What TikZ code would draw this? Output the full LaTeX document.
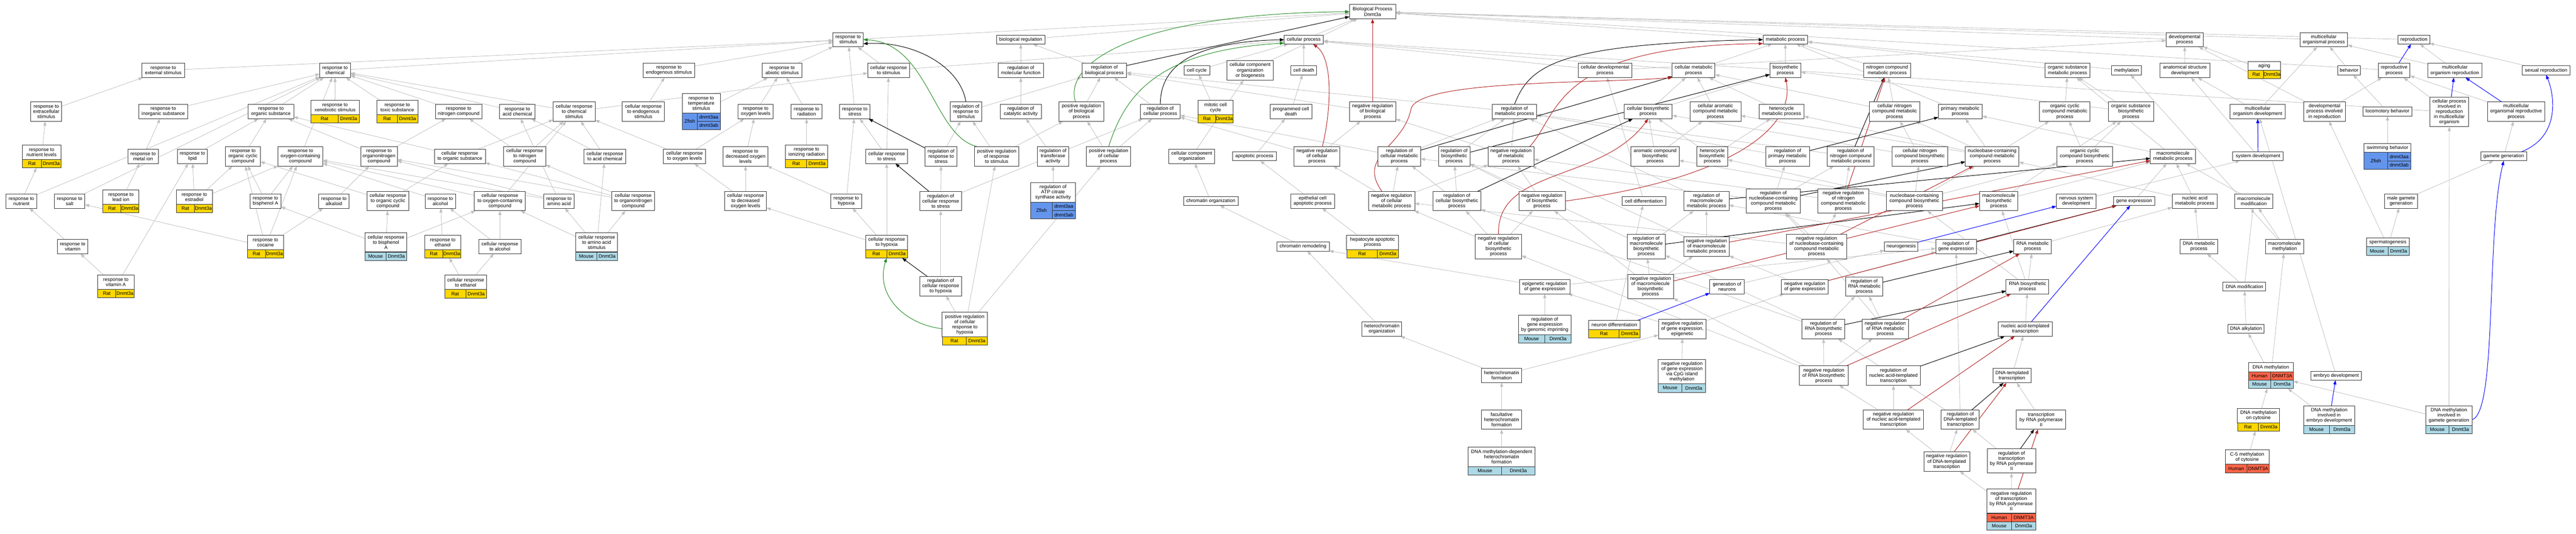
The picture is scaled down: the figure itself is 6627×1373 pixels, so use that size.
\documentclass[tikz,border=0pt]{standalone}
\usepackage{fontspec}
\setmainfont{Liberation Sans}
\usetikzlibrary{arrows.meta,fit}
\definecolor{ratc}{HTML}{FFD700}
\definecolor{mouc}{HTML}{ADD8E6}
\definecolor{humc}{HTML}{FF6347}
\definecolor{zfc}{HTML}{6495ED}
\definecolor{egray}{RGB}{192,192,192}
\definecolor{egreen}{HTML}{228B22}
\definecolor{ered}{HTML}{B22222}
\definecolor{eblue}{HTML}{0000FF}
\pgfdeclarelayer{bg}
\pgfdeclarelayer{edges}
\pgfsetlayers{bg,edges,main}
\tikzset{
  box/.style={draw=black!80,line width=1.3pt,fill=white,align=center,inner xsep=2pt,inner ysep=1pt,outer sep=0pt,font=\fontsize{12.5}{13.3}\selectfont},
  l1/.style={minimum height=23pt},
  l2/.style={minimum height=37pt},
  l3/.style={minimum height=50pt},
  l4/.style={minimum height=63pt},
  l5/.style={minimum height=76pt},
  cell/.style={draw=black!80,line width=1pt,inner sep=0pt,outer sep=0pt,minimum height=21.5pt,font=\fontsize{12.5}{13.3}\selectfont},
  fitb/.style={inner sep=0pt,outer sep=0pt},
  e/.style={draw=egray,line width=1.1pt,-{Triangle[length=11pt,width=8pt]}},
  eb/.style={draw=black,line width=1.3pt,-{Triangle[length=11pt,width=8pt]}},
  eg/.style={draw=egreen,line width=1.3pt,-{Triangle[length=11pt,width=8pt]}},
  er/.style={draw=ered,line width=1.3pt,-{Triangle[length=11pt,width=8pt]}},
  eu/.style={draw=eblue,line width=1.3pt,-{Triangle[length=11pt,width=8pt]}}
}
\newcommand\gn[6]{\node[box,l#5,minimum width=#4pt] (#1) at (#2,#3) {#6};}
\newcommand\tnR[6]{%
  \node[box,l#5,minimum width=#4pt] (#1-l) at (#2,#3) {#6};
  \pgfmathsetmacro\tabwa{max(#4/2,#4-54)}\pgfmathsetmacro\tabwb{#4-\tabwa}
  \node[cell,fill=ratc,minimum width=\tabwa pt,anchor=north west] (#1-a) at (#1-l.south west) {Rat};
  \node[cell,fill=ratc,minimum width=\tabwb pt,anchor=north east] (#1-b) at (#1-l.south east) {Dnmt3a};
  \node[fitb,fit=(#1-l)(#1-a)(#1-b)] (#1) {};}
\newcommand\tnM[6]{%
  \node[box,l#5,minimum width=#4pt] (#1-l) at (#2,#3) {#6};
  \pgfmathsetmacro\tabwa{#4/2}
  \node[cell,fill=mouc,minimum width=\tabwa pt,anchor=north west] (#1-a) at (#1-l.south west) {Mouse};
  \node[cell,fill=mouc,minimum width=\tabwa pt,anchor=north east] (#1-b) at (#1-l.south east) {Dnmt3a};
  \node[fitb,fit=(#1-l)(#1-a)(#1-b)] (#1) {};}
\newcommand\tnH[6]{%
  \node[box,l#5,minimum width=#4pt] (#1-l) at (#2,#3) {#6};
  \pgfmathsetmacro\tabwa{max(#4/2,#4-62)}\pgfmathsetmacro\tabwb{#4-\tabwa}
  \node[cell,fill=humc,minimum width=\tabwa pt,anchor=north west] (#1-a) at (#1-l.south west) {Human};
  \node[cell,fill=humc,minimum width=\tabwb pt,anchor=north east] (#1-b) at (#1-l.south east) {DNMT3A};
  \node[fitb,fit=(#1-l)(#1-a)(#1-b)] (#1) {};}
\newcommand\tnHM[6]{%
  \node[box,l#5,minimum width=#4pt] (#1-l) at (#2,#3) {#6};
  \pgfmathsetmacro\tabwa{max(#4/2,#4-62)}\pgfmathsetmacro\tabwb{#4-\tabwa}
  \node[cell,fill=humc,minimum width=\tabwa pt,anchor=north west] (#1-a) at (#1-l.south west) {Human};
  \node[cell,fill=humc,minimum width=\tabwb pt,anchor=north east] (#1-b) at (#1-l.south east) {DNMT3A};
  \node[cell,fill=mouc,minimum width=\tabwa pt,anchor=north west] (#1-c) at (#1-a.south west) {Mouse};
  \node[cell,fill=mouc,minimum width=\tabwb pt,anchor=north east] (#1-d) at (#1-b.south east) {Dnmt3a};
  \node[fitb,fit=(#1-l)(#1-c)(#1-d)] (#1) {};}
\newcommand\tnZ[6]{%
  \node[box,l#5,minimum width=#4pt] (#1-l) at (#2,#3) {#6};
  \pgfmathsetmacro\tabwb{max(#4/2,59)}\pgfmathsetmacro\tabwa{#4-\tabwb}
  \node[cell,fill=zfc,minimum width=\tabwa pt,minimum height=43pt,anchor=north west] (#1-a) at (#1-l.south west) {Zfish};
  \node[cell,fill=zfc,minimum width=\tabwb pt,anchor=north east] (#1-b) at (#1-l.south east) {dnmt3aa};
  \node[cell,fill=zfc,minimum width=\tabwb pt,anchor=north] (#1-c) at (#1-b.south) {dnmt3ab};
  \node[fitb,fit=(#1-l)(#1-a)(#1-c)] (#1) {};}
\begin{document}
\begin{tikzpicture}[x=1pt,y=-1pt]
\path[use as bounding box] (0,0) rectangle (6627,1373);
\begin{pgfonlayer}{bg}
\fill[white] (0,0) rectangle (6627,1373);
\end{pgfonlayer}
% row 30
\gn{BP}{3531}{30}{119}{2}{Biological Process\\Dnmt3a}
% row 102
\gn{stim}{2182}{102}{78}{2}{response to\\stimulus}
\gn{bioreg}{2626}{102}{124}{1}{biological regulation}
\gn{cellproc}{3354}{102}{101}{1}{cellular process}
\gn{metab}{4593}{102}{115}{1}{metabolic process}
\gn{devproc}{5620}{102}{95}{2}{developmental\\process}
\gn{multorg}{5978}{102}{123}{2}{multicellular\\organismal process}
\gn{repro}{6210}{102}{81}{1}{reproduction}
% row 181
\gn{extstim}{420}{181}{109}{2}{response to\\external stimulus}
\gn{chem}{862}{181}{79}{2}{response to\\chemical}
\gn{endostim}{1721}{181}{133}{2}{response to\\endogenous stimulus}
\gn{abiotic}{2012}{181}{102}{2}{response to\\abiotic stimulus}
\gn{cellstim}{2286}{181}{108}{2}{cellular response\\to stimulus}
\gn{regmol}{2626}{181}{116}{2}{regulation of\\molecular function}
\gn{regbio}{2841}{181}{115}{2}{regulation of\\biological process}
\gn{cellcycle}{3079}{181}{66}{1}{cell cycle}
\gn{ccob}{3216}{181}{119}{3}{cellular component\\organization\\or biogenesis}
\gn{celldeath}{3354}{181}{67}{1}{cell death}
\gn{celldev}{4129}{181}{138}{2}{cellular developmental\\process}
\gn{cellmet}{4357}{181}{110}{2}{cellular metabolic\\process}
\gn{biosyn}{4593}{181}{80}{2}{biosynthetic\\process}
\gn{nitmet}{4855}{181}{120}{2}{nitrogen compound\\metabolic process}
\gn{orgsubmet}{5319}{181}{116}{2}{organic substance\\metabolic process}
\gn{methyl}{5471}{181}{77}{1}{methylation}
\gn{anat}{5621}{181}{128}{2}{anatomical structure\\development}
\tnR{aging}{5825}{169.5}{84}{1}{aging}
\gn{behav}{6043}{181}{59}{1}{behavior}
\gn{reprop}{6159}{181}{82}{2}{reproductive\\process}
\gn{mor}{6315}{181}{139}{2}{multicellular\\organism reproduction}
\gn{sexrep}{6550}{181}{123}{1}{sexual reproduction}
% row 287
\gn{extracell}{119}{287}{80}{3}{response to\\extracellular\\stimulus}
\gn{inorg}{420}{287}{126}{2}{response to\\inorganic substance}
\gn{orgsub}{697}{287}{117}{2}{response to\\organic substance}
\tnR{xeno}{862}{276.5}{124}{2}{response to\\xenobiotic stimulus}
\tnR{toxic}{1022}{276.5}{106}{2}{response to\\toxic substance}
\gn{nitcomp}{1180}{287}{120}{2}{response to\\nitrogen compound}
\gn{acidchem}{1331}{287}{91}{2}{response to\\acid chemical}
\gn{cellchem}{1477}{287}{108}{3}{cellular response\\to chemical\\stimulus}
\gn{cellendo}{1655}{287}{108}{3}{cellular response\\to endogenous\\stimulus}
\tnZ{temp}{1804}{265.5}{98}{3}{response to\\temperature\\stimulus}
\gn{oxylev}{1944}{287}{90}{2}{response to\\oxygen levels}
\gn{radiation}{2075}{287}{79}{2}{response to\\radiation}
\gn{stress}{2199}{287}{78}{2}{response to\\stress}
\gn{regresp}{2485}{287}{81}{3}{regulation of\\response to\\stimulus}
\gn{regcat}{2626}{287}{106}{2}{regulation of\\catalytic activity}
\gn{posbio}{2782}{287}{115}{3}{positive regulation\\of biological\\process}
\gn{regcell}{2985}{287}{102}{2}{regulation of\\cellular process}
\tnR{mitotic}{3127}{276.5}{90}{2}{mitotic cell\\cycle}
\gn{pcd}{3321}{287}{107}{2}{programmed cell\\death}
\gn{negbio}{3531}{287}{119}{3}{negative regulation\\of biological\\process}
\gn{regmet}{3896}{287}{115}{2}{regulation of\\metabolic process}
\gn{cellbiosyn}{4240}{287}{124}{2}{cellular biosynthetic\\process}
\gn{cellarom}{4413}{287}{131}{3}{cellular aromatic\\compound metabolic\\process}
\gn{hetmet}{4583}{287}{116}{2}{heterocycle\\metabolic process}
\gn{cellnitmet}{4874}{287}{130}{3}{cellular nitrogen\\compound metabolic\\process}
\gn{primmet}{5043}{287}{113}{2}{primary metabolic\\process}
\gn{orgcycmet}{5312}{287}{130}{3}{organic cyclic\\compound metabolic\\process}
\gn{orgsubbio}{5482}{287}{117}{3}{organic substance\\biosynthetic\\process}
\gn{multdev}{5808}{287}{141}{2}{multicellular\\organism development}
\gn{devrepro}{5980}{287}{107}{3}{developmental\\process involved\\in reproduction}
\gn{locom}{6142}{287}{126}{1}{locomotory behavior}
\gn{cpirmo}{6301}{288}{100}{5}{cellular process\\involved in\\reproduction\\in multicellular\\organism}
\gn{morp}{6473}{287}{147}{3}{multicellular\\organismal reproductive\\process}
% row 402
\tnR{nutlev}{107}{391.5}{100}{2}{response to\\nutrient levels}
\gn{metalion}{368}{402}{78}{2}{response to\\metal ion}
\gn{lipid}{495}{402}{78}{2}{response to\\lipid}
\gn{orgcyc}{625}{402}{90}{3}{response to\\organic cyclic\\compound}
\gn{oxycont}{773}{402}{115}{3}{response to\\oxygen-containing\\compound}
\gn{orgnit}{975}{402}{94}{3}{response to\\organonitrogen\\compound}
\gn{cellorgsub}{1183}{402}{131}{2}{cellular response\\to organic substance}
\gn{cellnit}{1350}{402}{108}{3}{cellular response\\to nitrogen\\compound}
\gn{cellacid}{1556}{402}{108}{2}{cellular response\\to acid chemical}
\gn{celloxylev}{1761}{402}{108}{2}{cellular response\\to oxygen levels}
\gn{decoxy}{1918}{402}{116}{3}{response to\\decreased oxygen\\levels}
\tnR{ionrad}{2075}{391.5}{108}{2}{response to\\ionizing radiation}
\gn{cellstress}{2281}{402}{108}{2}{cellular response\\to stress}
\gn{regstress}{2421}{402}{82}{3}{regulation of\\response to\\stress}
\gn{posresp}{2564}{402}{115}{3}{positive regulation\\of response\\to stimulus}
\gn{regtrans}{2709}{402}{81}{3}{regulation of\\transferase\\activity}
\gn{poscell}{2852}{402}{114}{3}{positive regulation\\of cellular\\process}
\gn{cco}{3066}{402}{118}{2}{cellular component\\organization}
\gn{apop}{3227}{402}{112}{1}{apoptotic process}
\gn{negcell}{3388}{402}{118}{3}{negative regulation\\of cellular\\process}
\gn{regcellmet}{3600}{402}{110}{3}{regulation of\\cellular metabolic\\process}
\gn{regbiosyn}{3741}{402}{81}{3}{regulation of\\biosynthetic\\process}
\gn{negmet}{3887}{402}{118}{3}{negative regulation\\of metabolic\\process}
\gn{arombio}{4258}{402}{124}{3}{aromatic compound\\biosynthetic\\process}
\gn{hetbio}{4405}{402}{80}{3}{heterocycle\\biosynthetic\\process}
\gn{regprim}{4599}{402}{112}{3}{regulation of\\primary metabolic\\process}
\gn{regnit}{4761}{402}{120}{3}{regulation of\\nitrogen compound\\metabolic process}
\gn{cellnitbio}{4939}{402}{144}{3}{cellular nitrogen\\compound biosynthetic\\process}
\gn{nucmet}{5125}{402}{138}{3}{nucleobase-containing\\compound metabolic\\process}
\gn{orgcycbio}{5363}{402}{144}{3}{organic cyclic\\compound biosynthetic\\process}
\gn{macromet}{5590}{402}{116}{2}{macromolecule\\metabolic process}
\gn{sysdev}{5809}{402}{130}{1}{system development}
\tnZ{swim}{6142}{380.5}{120}{1}{swimming behavior}
\gn{gamete}{6441}{402}{118}{1}{gamete generation}
% row 517
\gn{nutrient}{55}{517}{79}{2}{response to\\nutrient}
\gn{salt}{179}{517}{79}{2}{response to\\salt}
\tnR{leadion}{311}{506.5}{93}{2}{response to\\lead ion}
\tnR{estradiol}{500}{506.5}{93}{2}{response to\\estradiol}
\gn{bisA}{683}{517}{79}{2}{response to\\bisphenol A}
\gn{alkaloid}{859}{517}{79}{2}{response to\\alkaloid}
\gn{cellorgcyc}{998}{517}{107}{3}{cellular response\\to organic cyclic\\compound}
\gn{alcohol}{1133}{517}{79}{2}{response to\\alcohol}
\gn{celloxycont}{1286}{517}{131}{3}{cellular response\\to oxygen-containing\\compound}
\gn{aminoacid}{1438}{517}{78}{2}{response to\\amino acid}
\gn{cellorgnit}{1629}{517}{109}{3}{cellular response\\to organonitrogen\\compound}
\gn{celldecoxy}{1918}{517}{108}{3}{cellular response\\to decreased\\oxygen levels}
\gn{hypoxia}{2177}{517}{79}{2}{response to\\hypoxia}
\gn{regcellstress}{2420}{517}{108}{3}{regulation of\\cellular response\\to stress}
\tnZ{atp}{2709}{495}{115}{3}{regulation of\\ATP citrate\\synthase activity}
\gn{chromorg}{3115}{517}{141}{1}{chromatin organization}
\gn{epiapop}{3377}{517}{113}{2}{epithelial cell\\apoptotic process}
\gn{negcellmet}{3580}{517}{119}{3}{negative regulation\\of cellular\\metabolic process}
\gn{regcellbio}{3748}{517}{124}{3}{regulation of\\cellular biosynthetic\\process}
\gn{negbiosyn}{3967}{517}{119}{3}{negative regulation\\of biosynthetic\\process}
\gn{celldiff}{4229}{517}{112}{1}{cell differentiation}
\gn{regmacromet}{4390}{517}{116}{3}{regulation of\\macromolecule\\metabolic process}
\gn{regnuc}{4562}{517}{138}{4}{regulation of\\nucleobase-containing\\compound metabolic\\process}
\gn{negnit}{4742}{517}{131}{4}{negative regulation\\of nitrogen\\compound metabolic\\process}
\gn{nucbio}{4925}{517}{144}{3}{nucleobase-containing\\compound biosynthetic\\process}
\gn{macrobio}{5142}{517}{99}{3}{macromolecule\\biosynthetic\\process}
\gn{nsdev}{5341}{517}{102}{2}{nervous system\\development}
\gn{geneexp}{5490}{517}{106}{1}{gene expression}
\gn{nucacidmet}{5646}{517}{116}{2}{nucleic acid\\metabolic process}
\gn{macromod}{5798}{517}{99}{2}{macromolecule\\modification}
\gn{malegam}{6177}{517}{84}{2}{male gamete\\generation}
% row 634
\gn{vitamin}{187}{634}{79}{2}{response to\\vitamin}
\tnR{cocaine}{683}{623.5}{93}{2}{response to\\cocaine}
\tnM{cellbisA}{993}{623}{107}{3}{cellular response\\to bisphenol\\A}
\tnR{ethanol}{1139}{623.5}{93}{2}{response to\\ethanol}
\gn{cellalcohol}{1286}{634}{108}{2}{cellular response\\to alcohol}
\tnM{cellamino}{1535}{623}{107}{3}{cellular response\\to amino acid\\stimulus}
\tnR{cellhypoxia}{2281}{623.5}{108}{2}{cellular response\\to hypoxia}
\gn{chromrem}{3352}{634}{135}{1}{chromatin remodeling}
\tnR{hepato}{3531}{623.5}{133}{2}{hepatocyte apoptotic\\process}
\gn{negcellbio}{3855}{634}{119}{4}{negative regulation\\of cellular\\biosynthetic\\process}
\gn{regmacrobio}{4235}{634}{98}{4}{regulation of\\macromolecule\\biosynthetic\\process}
\gn{negmacromet}{4390}{634}{117}{3}{negative regulation\\of macromolecule\\metabolic process}
\gn{negnuc}{4673}{634}{155}{4}{negative regulation\\of nucleobase-containing\\compound metabolic\\process}
\gn{neurogen}{4891}{634}{86}{1}{neurogenesis}
\gn{reggene}{5032}{634}{105}{2}{regulation of\\gene expression}
\gn{rnamet}{5229}{634}{97}{2}{RNA metabolic\\process}
\gn{dnamet}{5657}{634}{96}{2}{DNA metabolic\\process}
\gn{macromethyl}{5877}{634}{98}{2}{macromolecule\\methylation}
\tnM{spermato}{6143}{623}{111}{1}{spermatogenesis}
% row 737
\tnR{vitA}{298}{725.5}{94}{2}{response to\\vitamin A}
\tnR{cellethanol}{1198}{726}{108}{2}{cellular response\\to ethanol}
\gn{regcellhyp}{2420}{736}{108}{3}{regulation of\\cellular response\\to hypoxia}
\gn{epireg}{3974}{737}{129}{2}{epigenetic regulation\\of gene expression}
\gn{negmacrobio}{4246}{737}{118}{4}{negative regulation\\of macromolecule\\biosynthetic\\process}
\gn{genneur}{4443}{737}{89}{2}{generation of\\neurons}
\gn{neggene}{4643}{737}{120}{2}{negative regulation\\of gene expression}
\gn{regrnamet}{4796}{737}{96}{3}{regulation of\\RNA metabolic\\process}
\gn{rnabio}{5216}{737}{110}{2}{RNA biosynthetic\\process}
\gn{dnamod}{5774}{737}{110}{1}{DNA modification}
% row 846
\tnR{posregcellhyp}{2482}{834.5}{116}{4}{positive regulation\\of cellular\\response to\\hypoxia}
\gn{hetorg}{3555}{846}{102}{2}{heterochromatin\\organization}
\tnM{genimprint}{3974}{835.5}{136}{3}{regulation of\\gene expression\\by genomic imprinting}
\tnR{neurondiff}{4153}{835.5}{133}{1}{neuron differentiation}
\gn{neggeneepi}{4328}{846}{123}{3}{negative regulation\\of gene expression,\\epigenetic}
\gn{regrnabio}{4691}{846}{110}{3}{regulation of\\RNA biosynthetic\\process}
\gn{negrnamet}{4850}{846}{119}{3}{negative regulation\\of RNA metabolic\\process}
\gn{natrans}{5210}{846}{140}{2}{nucleic acid-templated\\transcription}
\gn{dnaalk}{5778}{846}{94}{1}{DNA alkylation}
% row 966
\gn{hetform}{3863}{965}{103}{2}{heterochromatin\\formation}
\tnM{cpg}{4327}{955.5}{122}{4}{negative regulation\\of gene expression\\via CpG island\\methylation}
\gn{negrnabio}{4692}{966}{125}{3}{negative regulation\\of RNA biosynthetic\\process}
\gn{regnatrans}{4871}{966}{140}{3}{regulation of\\nucleic acid-templated\\transcription}
\gn{dnatrans}{5176}{966}{98}{2}{DNA-templated\\transcription}
\tnHM{dnameth}{5842}{944.5}{116}{1}{DNA methylation}
\gn{embryo}{6010}{966}{131}{1}{embryo development}
% row 1079
\gn{facult}{3863}{1079}{103}{3}{facultative\\heterochromatin\\formation}
\gn{negnatrans}{4871}{1079}{155}{3}{negative regulation\\of nucleic acid-templated\\transcription}
\gn{regdnatrans}{5043}{1079}{98}{3}{regulation of\\DNA-templated\\transcription}
\gn{polII}{5251}{1079}{127}{3}{transcription\\by RNA polymerase\\II}
\tnR{dnamcyt}{5810}{1068.5}{108}{2}{DNA methylation\\on cytosine}
\tnM{dnamembryo}{5992}{1068.5}{131}{3}{DNA methylation\\involved in\\embryo development}
\tnM{dnamgamete}{6300}{1068.5}{119}{3}{DNA methylation\\involved in\\gamete generation}
% row 1185
\tnM{dnamhet}{3863}{1175}{172}{3}{DNA methylation-dependent\\heterochromatin\\formation}
\gn{negdnatrans}{5008}{1187}{118}{3}{negative regulation\\of DNA-templated\\transcription}
\gn{regpolII}{5175}{1185}{125}{4}{regulation of\\transcription\\by RNA polymerase\\II}
\tnH{c5}{5781}{1175.5}{113}{2}{C-5 methylation\\of cytosine}
% row 1290
\tnHM{negpolII}{5174}{1288.5}{126}{4}{negative regulation\\of transcription\\by RNA polymerase\\II}

\begin{pgfonlayer}{edges}
\foreach \a/\b in {extstim/stim, chem/stim, extracell/extstim, nutlev/extracell, nutrient/nutlev, nutrient/chem, salt/chem, inorg/chem, metalion/inorg, leadion/metalion, lipid/orgsub, estradiol/lipid, estradiol/orgcyc, estradiol/oxycont, orgsub/chem, orgcyc/orgsub, oxycont/chem, orgnit/orgsub, orgnit/nitcomp, xeno/chem, toxic/chem, bisA/orgcyc, bisA/oxycont, alkaloid/orgnit, cellorgcyc/orgcyc, cellorgcyc/cellorgsub, vitamin/nutrient, vitA/vitamin, vitA/lipid, cocaine/alkaloid, cocaine/orgcyc, cocaine/oxycont, cocaine/salt, cellbisA/bisA, cellbisA/cellorgcyc, cellbisA/celloxycont,
nitcomp/chem, acidchem/chem, cellchem/chem, cellchem/cellstim, endostim/stim, cellendo/endostim, temp/abiotic, abiotic/stim, oxylev/abiotic, radiation/abiotic, stress/stim, cellorgsub/orgsub, cellorgsub/cellchem, cellnit/nitcomp, cellnit/cellchem, cellacid/acidchem, cellacid/cellchem, celloxylev/oxylev, celloxylev/cellchem, decoxy/oxylev, ionrad/radiation, alcohol/oxycont, ethanol/alcohol, celloxycont/oxycont, celloxycont/cellchem, aminoacid/acidchem, aminoacid/oxycont, aminoacid/orgnit, cellorgnit/orgnit, cellorgnit/cellnit, cellorgnit/cellorgsub, celldecoxy/decoxy, celldecoxy/celloxylev, hypoxia/decoxy, hypoxia/stress, cellalcohol/alcohol, cellalcohol/celloxycont, cellamino/aminoacid, cellamino/celloxycont, cellamino/cellorgnit, cellamino/cellacid, cellethanol/ethanol, cellethanol/cellalcohol, cellhypoxia/celldecoxy, cellhypoxia/hypoxia, cellhypoxia/cellstress,
stim/BP, bioreg/BP, cellstim/cellproc, cellstim/stim, regmol/bioreg, regbio/bioreg, regresp/regbio, posresp/regresp, posresp/posbio, regcat/regmol, posbio/regbio, regcell/regbio, cellcycle/cellproc, ccob/BP, mitotic/cellcycle, pcd/celldeath, cellstress/cellstim, cellstress/stress, regstress/regresp, regtrans/regcat, poscell/posbio, poscell/regcell, cco/ccob, apop/pcd, regcellstress/regstress, regcellstress/regcell, atp/regtrans, chromorg/cco, chromrem/chromorg, regcellhyp/regcellstress, posregcellhyp/regcellhyp, posregcellhyp/posresp, posregcellhyp/poscell,
cellproc/BP, celldeath/cellproc, negbio/regbio, regmet/regbio, negcell/negbio, negcell/regcell, regcellmet/regmet, regcellmet/regcell, regbiosyn/regmet, negmet/regmet, negmet/negbio, celldev/cellproc, celldev/devproc, cellmet/cellproc, cellmet/metab, cellbiosyn/cellmet, cellbiosyn/biosyn, cellarom/cellmet, negcellmet/negcell, negcellmet/regcellmet, negcellmet/negmet, regcellbio/regcellmet, regcellbio/regbiosyn, negbiosyn/regbiosyn, negbiosyn/negmet, celldiff/celldev, regmacromet/regmet, arombio/cellarom, arombio/cellbiosyn, hetbio/cellbiosyn, hetbio/hetmet, epiapop/apop, hepato/epiapop, negcellbio/negcellmet, negcellbio/regcellbio, negcellbio/negbiosyn, regmacrobio/regbiosyn, regmacrobio/regmacromet, negmacromet/regmacromet, negmacromet/negmet, regprim/regmet, regnit/regmet,
hetorg/chromrem, epireg/chromrem, epireg/reggene, genimprint/epireg, neurondiff/celldiff, neggeneepi/epireg, neggeneepi/neggene, hetform/hetorg, hetform/neggeneepi, cpg/neggeneepi, facult/hetform, dnamhet/facult, negmacrobio/regmacrobio, negmacrobio/negbiosyn, negmacrobio/negmacromet, genneur/neurogen,
metab/BP, biosyn/metab, nitmet/metab, orgsubmet/metab, methyl/metab, hetmet/cellmet, cellnitmet/nitmet, cellnitmet/cellmet, primmet/metab, orgcycmet/orgsubmet, orgsubbio/orgsubmet, orgsubbio/biosyn, cellnitbio/cellnitmet, cellnitbio/cellbiosyn, nucmet/cellarom, nucmet/hetmet, nucmet/cellnitmet, nucmet/orgcycmet, nucmet/primmet, orgcycbio/orgcycmet, orgcycbio/orgsubbio, regnuc/regcellmet, regnuc/regprim, regnuc/regnit, negnit/regnit, negnit/negmet, nucbio/nucmet, nucbio/cellnitbio, nucbio/arombio, nucbio/hetbio, nucbio/orgcycbio, macrobio/macromet, macrobio/orgsubbio, nsdev/sysdev, geneexp/macromet, negnuc/regnuc, negnuc/negcellmet, negnuc/negnit, reggene/regmacromet, rnamet/nucacidmet, macromet/orgsubmet, macromet/primmet,
neggene/reggene, neggene/negmacromet, regrnamet/regnuc, rnabio/rnamet, rnabio/nucbio, rnabio/macrobio, regrnabio/regrnamet, regrnabio/regmacrobio, regrnabio/regcellbio, negrnamet/regrnamet, negrnamet/negnuc, natrans/rnabio, negrnabio/regrnabio, negrnabio/negrnamet, negrnabio/negcellbio, negrnabio/negmacrobio, regnatrans/regrnabio, dnatrans/natrans, negnatrans/negrnabio, negnatrans/regnatrans, regdnatrans/regnatrans, regdnatrans/reggene, polII/dnatrans, negdnatrans/negnatrans, negdnatrans/regdnatrans, regpolII/regdnatrans, negpolII/negdnatrans, negpolII/regpolII,
devproc/BP, multorg/BP, repro/BP, anat/devproc, aging/devproc, behav/multorg, reprop/BP, mor/repro, mor/multorg, sexrep/repro, multdev/anat, multdev/multorg, devrepro/devproc, devrepro/reprop, locom/behav, cpirmo/reprop, cpirmo/cellproc, morp/reprop, sysdev/anat, swim/locom, gamete/morp, nucacidmet/macromet, nucacidmet/nucmet, macromod/macromet, malegam/gamete, dnamet/nucacidmet, macromethyl/macromod, macromethyl/methyl, spermato/malegam, spermato/devrepro, dnamod/dnamet, dnamod/macromod, dnaalk/dnamod, dnameth/dnaalk, dnameth/macromethyl, embryo/multdev, dnamcyt/dnameth, dnamembryo/dnameth, dnamgamete/dnameth, dnamgamete/cpirmo, c5/dnamcyt}
  {\draw[e] (\a) -- (\b);}
% black: regulates
\foreach \a/\b in {regbio/BP, regstress/stress, regcellstress/cellstress, regcellhyp/cellhypoxia, regcellmet/cellmet, regbiosyn/biosyn, regcellbio/cellbiosyn, regmacromet/macromet, regmacrobio/macrobio, regprim/primmet, regnit/nitmet, regnuc/nucmet, reggene/geneexp, regrnamet/rnamet, regrnabio/rnabio, regnatrans/natrans, regdnatrans/dnatrans, regpolII/polII}
  {\draw[eb] (\a) -- (\b);}
\draw[eb] (regresp.north) .. controls (2470,170) and (2350,105) .. (stim.-15);
\draw[eb] (regcell.north) .. controls (2985,180) and (3050,108) .. (cellproc.west);
\draw[eb] (regmet.north) .. controls (3935,170) and (4000,112) .. (metab.west);
% green: positively regulates
\draw[eg] ([xshift=-15pt]posbio.north) .. controls (2735,170) and (2900,35) .. (BP.west);
\draw[eg] ([xshift=-50pt]posresp.north) .. controls (2400,350) and (2390,110) .. (stim.east);
\draw[eg] (poscell.north) .. controls (2890,260) and (2960,130) .. (cellproc.190);
\draw[eg] (posregcellhyp.west) .. controls (2330,835) and (2250,760) .. (cellhypoxia.south);
% red: negatively regulates
\foreach \a/\b in {negbio/BP, negmacromet/macromet, negmacrobio/macrobio, negnit/nitmet, negnuc/nucmet, neggene/geneexp, negrnamet/rnamet, negrnabio/rnabio, negnatrans/natrans, negdnatrans/dnatrans, negpolII/polII}
  {\draw[er] (\a) -- (\b);}
\draw[er] ([xshift=14pt]negcell.north) .. controls (3425,280) and (3430,150) .. ([xshift=24pt]cellproc.south);
\draw[er] ([xshift=48pt]negmet.north) .. controls (4010,300) and (3990,118) .. (metab.190);
\draw[er] ([xshift=-25pt]negcellmet.north) .. controls (3490,400) and (3610,380) .. (3630,280) .. controls (3650,205) and (4100,215) .. (cellmet.south west);
\draw[er] (negcellbio.north) .. controls (3850,430) and (4120,470) .. (cellbiosyn.south);
\draw[er] (negbiosyn.east) .. controls (4450,460) and (4620,330) .. (biosyn.south);
% blue: part of
\foreach \a/\b in {neurondiff/genneur, neurogen/nsdev, natrans/geneexp, reprop/repro, cpirmo/mor, morp/mor, sysdev/multdev, dnamembryo/embryo}
  {\draw[eu] (\a) -- (\b);}
\draw[eu] (dnamgamete.east) .. controls (6425,1060) and (6395,600) .. (gamete.south);
\draw[eu] ([xshift=45pt]gamete.north) .. controls (6590,350) and (6570,240) .. (sexrep.south);
\end{pgfonlayer}
\end{tikzpicture}
\end{document}
